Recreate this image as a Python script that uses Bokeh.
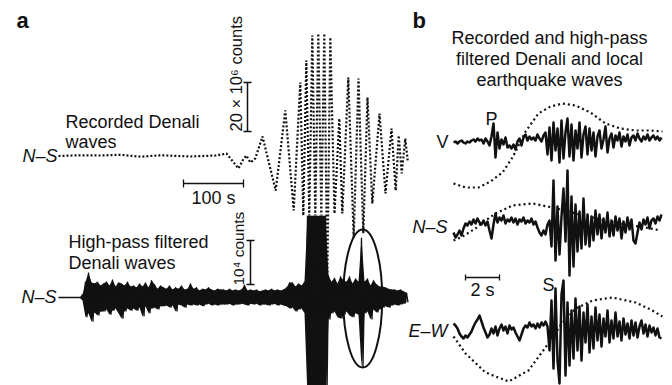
import numpy as np
from bokeh.plotting import figure
from bokeh.models import Range1d
from bokeh.core.properties import value
from bokeh.embed import file_html
from bokeh.resources import INLINE

# ---------------------------------------------------------------- data
# Panel a, recorded N-S Denali waves: turning points (time in s, amplitude in 10^6 counts)
rec_t = [0, 35, 70, 103, 137, 170, 220, 262, 280, 300, 307, 313, 320, 328, 340, 362, 378,
         392, 403, 408, 413, 418, 423, 428, 433, 438, 443, 448, 453, 460, 468, 473, 483,
         492, 500, 508, 515, 523, 535, 545, 555, 562, 567, 572, 578, 582]
rec_a = [0, 0.3, 0.2, 0.5, -0.3, 0.3, -0.2, 0.2, 1.0, -5.1, -1.8, 0.2, -2.7, -1.0, 8.0, -14.1, 18.6,
         -22.2, 30.0, -24.3, 39.0, -24.3, 49.2, -24.3, 50.0, -24.3, 50.0, -49.6, 48.4, -23.5, 15.3, -23.5, 32.0,
         -33.3, 31.6, -31.6, 23.9, -19.4, 17.3, -15.3, 11.2, -14.1, 8.4, -7.1, 7.1, -1.8]

# Panel a, high-pass filtered N-S: one reading every 5 s, upward / downward excursion (10^3 counts)
hp_dt = 5
hp_up = [0, 0, 0, 0, 0, 0, 0, 0, 0.7,
         3.6, 5.7, 3.4, 3.2, 3.6, 2.7,
         3.2, 3.6, 2.7, 4.1, 2.5, 3.4, 3.2, 2.7, 3.6, 2.5,
         2.7, 2.3, 3.2, 2.5, 3.4, 2.3, 3.9, 3.0, 2.0, 2.7,
         2.3, 2.0, 2.7, 1.8, 2.3, 2.0, 2.7, 1.8, 2.0, 3.2,
         2.0, 2.3, 1.6, 2.0, 1.8, 2.3, 1.8, 1.6, 2.0, 1.8,
         1.8, 1.6, 2.0, 1.6, 1.8, 1.6, 1.8, 2.9, 1.6, 1.8,
         1.6, 1.8, 1.4, 1.6, 1.8, 1.6, 2.0, 1.6, 1.8, 1.6,
         1.8, 2.3, 3.4, 3.4, 2.5, 3.2, 2.7, 3.6,
         18.6, 18.6, 18.6, 18.6, 18.6, 18.6, 18.6,
         5.0, 3.6, 4.5, 3.2, 4.8, 3.9,
         3.6, 4.8, 3.2, 4.3, 3.6, 13.6,
         3.6, 4.3, 2.7, 3.9, 3.0, 2.5,
         2.5, 2.3, 2.0, 1.8, 1.8, 1.6, 1.8, 1.4, 1.1]
hp_dn = [0, 0, 0, 0, 0, 0, 0, 0, 0.7,
         4.5, 3.6, 5.5, 3.4, 4.1, 3.2,
         3.2, 2.7, 3.9, 3.0, 2.5, 3.6, 4.8, 3.2, 2.5, 3.0,
         2.5, 3.0, 2.3, 4.3, 2.0, 3.6, 2.5, 2.3, 2.7, 2.0,
         2.0, 1.8, 2.3, 1.8, 3.2, 1.6, 1.8, 2.3, 1.6, 1.8,
         1.6, 1.8, 1.6, 2.0, 1.6, 1.4, 1.8, 1.6, 1.8, 1.6,
         1.6, 1.6, 1.4, 1.8, 1.6, 1.6, 1.4, 1.6, 1.8, 1.4,
         1.6, 1.4, 1.8, 1.6, 1.6, 1.8, 1.6, 1.4, 1.8, 1.6,
         1.8, 2.0, 2.5, 2.3, 3.2, 2.7, 2.5, 3.6,
         22.7, 22.7, 22.7, 22.7, 22.7, 22.7, 22.7,
         5.0, 3.6, 3.2, 4.5, 4.8, 3.9,
         3.2, 4.1, 4.5, 3.6, 3.9, 15.9,
         3.6, 3.2, 5.0, 2.7, 3.4, 2.7,
         2.3, 2.0, 2.3, 1.8, 1.6, 1.8, 1.6, 1.4, 1.1]
local_eq_t = 507      # s, local earthquake inside the filtered record (circled)

# Panel b, high-pass filtered local earthquake, one reading every 2/17 s (relative amplitude)
b_dt = 2 / 17
b_v = [0, 1, -1, 1, 2, 0, -1, 1, 0, 2,
       3, 1, 4, 2, 3, -1, 4, 1, -3, 6,
       19, -15, 10, -6, 3, -2, 5, -5, -3, -6,
       -2, -7, 1, 4, -3, 5, 8, 2, 6, 3,
       5, 2, 8, 4, 1, 7, 10, -12, 15, -18,
       20, -8, 14, -20, 22, -16, 10, 24, -14, 18,
       -18, 12, -6, 20, -15, 8, 16, -12, 14, -8,
       10, -14, 6, 12, -6, 3, 16, -10, 4, 9,
       -5, 7, 2, 10, -4, 6, 1, 8, -3, 5,
       7, 2, 9, 4, 1, 6, 3, 8, 2, 5,
       7, 3, 6, 2, 5]
b_ns = [-6, -11, -8, -4, -9, -2, 3, 1, 5, 2,
        7, 3, 8, 4, 2, 6, 1, 5, -4, -12,
        2, 13, 4, 9, 6, 11, 3, 7, 5, 9,
        4, 8, 2, 7, 5, 9, 3, 6, 4, 8,
        2, 5, -1, -6, -9, -4, -8, 2, 6, -20,
        46, -34, 20, -28, 10, 38, -15, 56, -49, 30,
        -40, 22, -25, 15, -22, 28, -18, 12, -20, 10,
        -14, 16, -8, 12, -12, 8, -6, 14, -10, 6,
        -9, 10, -4, 8, -12, 5, -6, 9, -3, 7,
        -14, -17, -6, 4, -3, 7, 2, 9, -2, 6,
        8, 3, 10, 6, 12]
b_ew = [7, 5, 2, -3, -6, -8, -5, -7, -4, -1,
        4, 8, 11, 15, 9, 3, -2, -7, -4, 2,
        -3, 4, -5, 2, 6, 0, 4, -3, 5, 1,
        3, -2, -6, -10, -4, 2, 5, 3, 8, 4,
        6, 2, 7, 3, 8, 5, 9, 4, -20, 30,
        -38, 42, -30, -53, 36, 50, -45, 28, -35, 20,
        -28, 32, -20, 24, -30, 18, -12, 26, -22, 14,
        -18, 23, -10, 16, -16, 12, -6, 20, -12, 10,
        -8, 18, -6, 9, -10, 12, -4, 7, -8, 10,
        -5, 8, -7, 4, 10, -3, 6, -6, 5, -2,
        3, -5, 2, -7, -8]
# Panel b, recorded (long-period) Denali waves: (time s, relative amplitude)
lp_v_t = [0, 0.71, 1.47, 2.18, 2.88, 3.47, 4.24, 5.0, 5.71, 6.41, 7.18, 8.06, 8.94, 9.82, 10.71, 11.59, 12.29]
lp_v_a = [-41, -45, -45, -39, -30, -15, 11, 29, 36, 39, 37, 30, 19, 14, 12, 12, 11]
lp_ns_t = [0, 0.53, 1.29, 1.88, 2.47, 3.47, 4.65, 5.82, 7.18, 8.65, 10.12, 11.29, 12.18]
lp_ns_a = [-14, -10, -2, 6, 13, 21, 23, 19, 13, 7, 2, -1, -4]
lp_ew_t = [0, 0.71, 1.88, 3.24, 4.41, 5.41, 6.29, 7.18, 8.18, 9.35, 10.71, 11.59, 12.29]
lp_ew_a = [-6, -23, -42, -51, -40, -17, 5, 22, 30, 33, 28, 21, 14]

# scale bars
bar_time_a = 100          # s
bar_amp_rec = 20          # 10^6 counts
bar_amp_hp = 10           # 10^3 counts (= 10^4 counts)
bar_time_b = 2            # s

# ---------------------------------------------------------------- layout
W, H = 672, 385
FONT = value("Liberation Sans")
BLACK = "#111111"
TEXT_DY = -7                    # alphabetic baseline correction

XA0, SXA = 58, 0.6              # panel a: x of t=0, px per s
YU, SYU = 155.5, 2.45           # recorded trace baseline, px per 10^6 counts
YL, SYL = 297, 4.4              # filtered trace baseline, px per 10^3 counts
XB0, SXB = 453, 17.0            # panel b: x of t=0, px per s
YV, YNS, YEW = 142, 226, 330    # panel b baselines

p = figure(width=W, height=H, x_range=Range1d(0, W), y_range=Range1d(H, 0),
           output_backend="svg", toolbar_location=None,
           x_axis_location=None, y_axis_location=None, min_border=0)
p.outline_line_color = None
p.xgrid.grid_line_color = None
p.ygrid.grid_line_color = None
p.background_fill_color = "white"
p.border_fill_color = "white"


def xa(t):
    return XA0 + SXA * np.asarray(t, dtype=float)


def xb(t):
    return XB0 + SXB * np.asarray(t, dtype=float)


# --- panel a, recorded trace (dotted)
p.line(xa(rec_t), YU - SYU * np.asarray(rec_a), line_color=BLACK, line_width=2.2,
       line_dash="2 2")

# --- panel a, filtered trace
t_hp = np.arange(len(hp_up)) * hp_dt
x_hp = xa(t_hp)
top = YL - SYL * np.asarray(hp_up)
bot = YL + SYL * np.asarray(hp_dn)
p.varea(x=x_hp, y1=top, y2=bot, fill_color=BLACK)
zx = np.empty(2 * len(x_hp))
zy = np.empty(2 * len(x_hp))
zx[0::2] = x_hp
zx[1::2] = x_hp + SXA * hp_dt / 2
zy[0::2] = top
zy[1::2] = bot
p.line(zx, zy, line_color=BLACK, line_width=1.3)

# ellipse around the local earthquake
p.ellipse(x=[xa(local_eq_t)], y=[YL + 1], width=39, height=138, fill_color=None,
          line_color=BLACK, line_width=2)

# --- scale bars, panel a
tb_x, tb_y = 183, 183
p.segment(x0=[tb_x], y0=[tb_y], x1=[tb_x + SXA * bar_time_a], y1=[tb_y], line_color=BLACK, line_width=1.5)
p.segment(x0=[tb_x, tb_x + SXA * bar_time_a], y0=[tb_y - 4] * 2,
          x1=[tb_x, tb_x + SXA * bar_time_a], y1=[tb_y + 4] * 2, line_color=BLACK, line_width=1.3)

ub_x, ub_y = 247, 131
p.segment(x0=[ub_x], y0=[ub_y], x1=[ub_x], y1=[ub_y - SYU * bar_amp_rec], line_color=BLACK, line_width=1.5)
p.segment(x0=[ub_x - 4] * 2, y0=[ub_y, ub_y - SYU * bar_amp_rec],
          x1=[ub_x + 4] * 2, y1=[ub_y, ub_y - SYU * bar_amp_rec], line_color=BLACK, line_width=1.3)

lb_x, lb_y = 250, 284
p.segment(x0=[lb_x], y0=[lb_y], x1=[lb_x], y1=[lb_y - SYL * bar_amp_hp], line_color=BLACK, line_width=1.5)
p.segment(x0=[lb_x - 4] * 2, y0=[lb_y, lb_y - SYL * bar_amp_hp],
          x1=[lb_x + 4] * 2, y1=[lb_y, lb_y - SYL * bar_amp_hp], line_color=BLACK, line_width=1.3)

# --- panel b traces
for t_lp, a_lp, yb in ((lp_v_t, lp_v_a, YV), (lp_ns_t, lp_ns_a, YNS), (lp_ew_t, lp_ew_a, YEW)):
    p.line(xb(t_lp), yb - np.asarray(a_lp), line_color=BLACK, line_width=2.2, line_dash="2 3")

for tr, yb in ((b_v, YV), (b_ns, YNS), (b_ew, YEW)):
    tt = np.arange(len(tr)) * b_dt
    p.line(xb(tt), yb - np.asarray(tr), line_color=BLACK, line_width=2.5, line_join="round")

sb_x, sb_y = 465, 277
p.segment(x0=[sb_x], y0=[sb_y], x1=[sb_x + SXB * bar_time_b], y1=[sb_y], line_color=BLACK, line_width=1.5)
p.segment(x0=[sb_x, sb_x + SXB * bar_time_b], y0=[sb_y - 3] * 2,
          x1=[sb_x, sb_x + SXB * bar_time_b], y1=[sb_y + 3] * 2, line_color=BLACK, line_width=1.3)


# --- texts
def txt(x, y, s, size="18px", style="normal", align="left", baseline="alphabetic", angle=0):
    dy = TEXT_DY if baseline == "alphabetic" else 0
    p.text(x=[x], y=[y + dy], text=[s], text_font=FONT, text_font_size=value(size),
           text_font_style=value(style), text_align=value(align),
           text_baseline=value(baseline), text_color=BLACK, angle=angle)


txt(16, 27, "a", size="22px", style="bold")
txt(412, 27, "b", size="22px", style="bold")

txt(65, 128, "Recorded Denali")
txt(65, 148, "waves")
txt(57, 162, "N–S", style="italic", align="right")
txt(tb_x + SXA * bar_time_a / 2, 204, "100 s", align="center")
txt(235, ub_y, "20 × 10⁶ counts", size="16.5px", baseline="middle", angle=np.pi / 2)

txt(68, 248, "High-pass filtered")
txt(68, 269, "Denali waves")
txt(56, 303, "N–S", style="italic", align="right")
txt(238, lb_y + 1, "10⁴ counts", size="15.5px", baseline="middle", angle=np.pi / 2)

txt(549, 44, "Recorded and high-pass", align="center")
txt(549, 65, "filtered Denali and local", align="center")
txt(549, 86, "earthquake waves", align="center")

txt(491, 125, "P", align="center")
txt(448, 148, "V", align="right")
txt(447, 233, "N–S", style="italic", align="right")
txt(447, 337, "E–W", style="italic", align="right")
txt(sb_x + SXB * bar_time_b / 2, 296, "2 s", align="center")
txt(548, 291, "S", align="center")

open("out.html", "w").write(file_html(p, INLINE))
